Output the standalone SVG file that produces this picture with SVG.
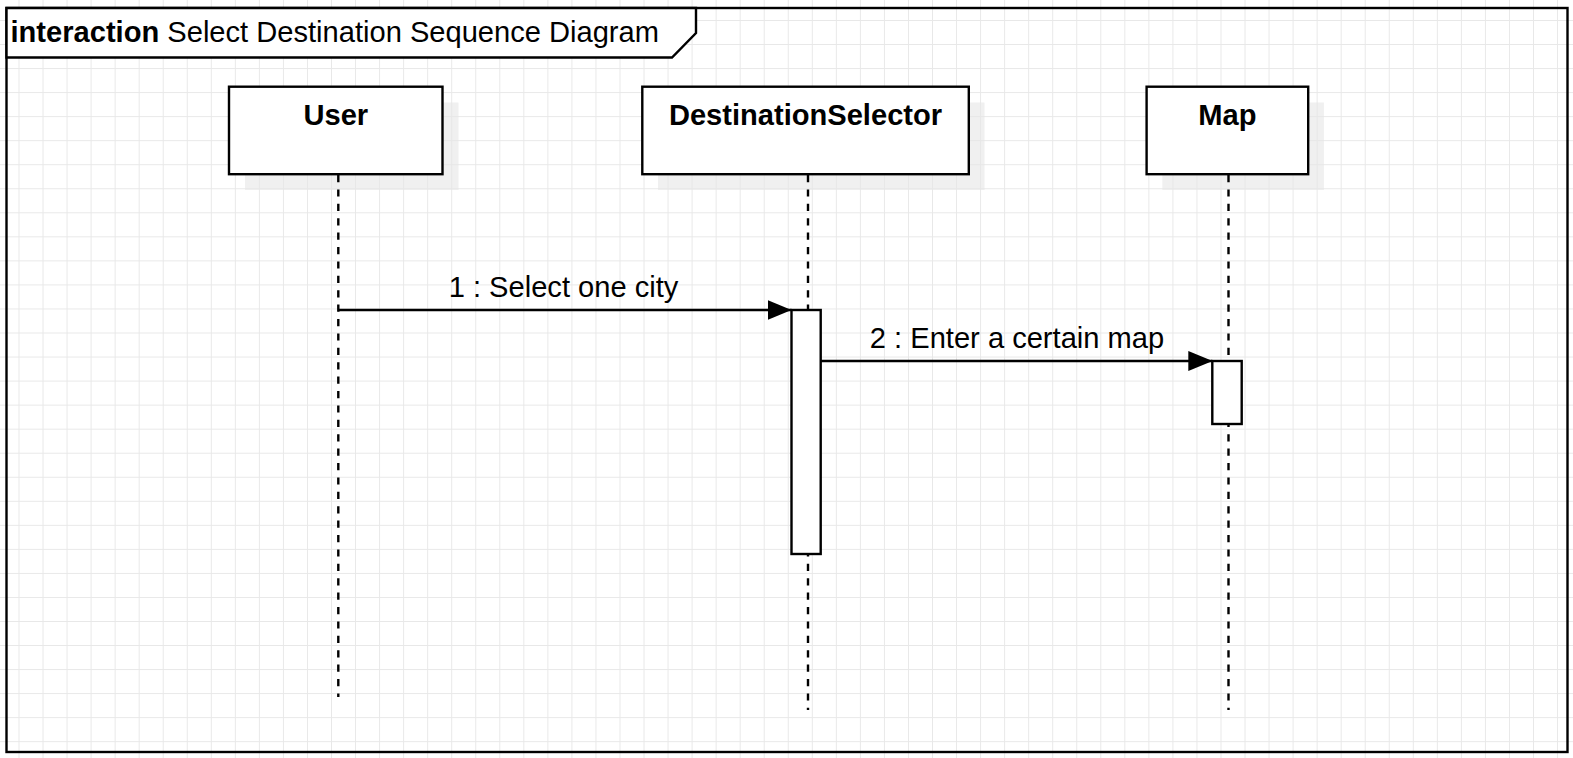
<svg xmlns="http://www.w3.org/2000/svg" width="1573" height="758" viewBox="0 0 1573 758">
<style>
text{font-family:"Liberation Sans",Arial,sans-serif;font-size:29.1px;fill:#000}
.b{font-weight:bold}
.box{fill:#fff;stroke:#000;stroke-width:2.4}
.shadow{fill:#e6e6e6;opacity:0.6}
.life{stroke:#000;stroke-width:2.4;stroke-dasharray:7.2 7.2;fill:none}
.act{fill:#fff;stroke:#000;stroke-width:2.4}
.msg{stroke:#000;stroke-width:2.4;fill:none}
</style>
<defs>
<pattern id="grid" patternUnits="userSpaceOnUse" x="18.5" y="20" width="24.04" height="24.04">
<path d="M0.5 0V24.04M0 0.5H24.04" stroke="#e8e8e8" stroke-width="1" fill="none"/>
</pattern>
<marker id="arr" markerUnits="userSpaceOnUse" viewBox="0 0 24 20" refX="24" refY="10" markerWidth="24" markerHeight="20" orient="auto">
<polygon points="0,0 24,10 0,20" fill="#000"/>
</marker>
</defs>
<rect width="1573" height="758" fill="#fff"/>
<rect width="1573" height="758" fill="url(#grid)"/>
<g id="frame">
<rect x="6.5" y="8" width="1561" height="744" fill="none" stroke="#000" stroke-width="2.4"/>
<path d="M6.5 8H696V33L672 57.5H6.5Z" fill="#fff" stroke="#000" stroke-width="2.4"/>
<text x="10.5" y="42"><tspan class="b">interaction</tspan> Select Destination Sequence Diagram</text>
</g>
<g id="user">
<rect class="shadow" x="245" y="102.5" width="213.5" height="87.5"/>
<rect class="box" x="229" y="86.7" width="213.5" height="87.5"/>
<text class="b" x="335.8" y="125" text-anchor="middle">User</text>
<line class="life" x1="338.3" y1="175" x2="338.3" y2="697"/>
</g>
<g id="destinationSelector">
<rect class="shadow" x="658" y="102.5" width="326.5" height="87.5"/>
<rect class="box" x="642.3" y="86.7" width="326.5" height="87.5"/>
<text class="b" x="805.5" y="125" text-anchor="middle">DestinationSelector</text>
<line class="life" x1="808" y1="175" x2="808" y2="710"/>
<rect class="act" x="791.5" y="310" width="29.2" height="244"/>
</g>
<g id="map">
<rect class="shadow" x="1162.3" y="102.5" width="161.6" height="87.5"/>
<rect class="box" x="1146.6" y="86.7" width="161.6" height="87.5"/>
<text class="b" x="1227.4" y="125" text-anchor="middle">Map</text>
<line class="life" x1="1228.5" y1="175" x2="1228.5" y2="710"/>
<rect class="act" x="1212.3" y="361" width="29.4" height="63"/>
</g>
<g id="connectors">
<line class="msg" x1="338.3" y1="310" x2="791.5" y2="310" marker-end="url(#arr)"/>
<text x="563.5" y="297" text-anchor="middle">1 : Select one city</text>
<line class="msg" x1="820.7" y1="361" x2="1212.3" y2="361" marker-end="url(#arr)"/>
<text x="1017" y="348" text-anchor="middle">2 : Enter a certain map</text>
</g>
</svg>
